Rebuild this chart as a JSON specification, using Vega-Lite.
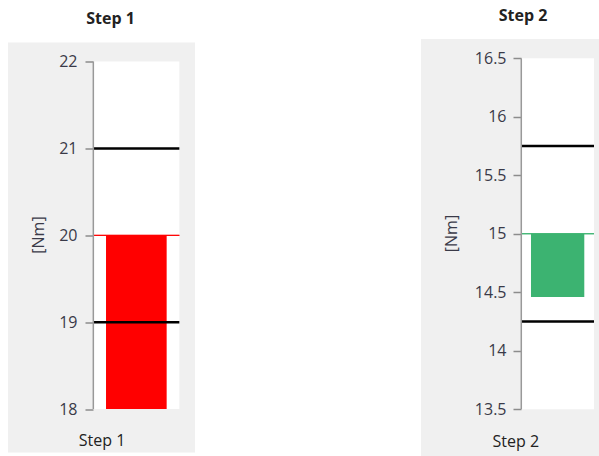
{
  "$schema": "https://vega.github.io/schema/vega-lite/v6.json",
  "padding": {"left": 8, "top": 8, "right": 0, "bottom": 0},
  "background": "#ffffff",
  "config": {"font": "Open Sans", "view": {"stroke": null}},
  "datasets": {
    "d1": [{"step": "Step 1", "lo": 18, "hi": 20, "target": 20, "lower": 19, "upper": 21}],
    "d2": [{"step": "Step 2", "lo": 14.46, "hi": 15, "target": 15, "lower": 14.25, "upper": 15.75}]
  },
  "hconcat": [
    {
      "width": 187,
      "height": 410,
      "title": {"text": "Step 1", "dx": 9, "offset": 3, "fontSize": 16, "fontWeight": "bold", "color": "#222222", "baseline": "alphabetic"},
      "data": {"name": "d1"},
      "view": {"fill": "#f0f0f0", "stroke": null},
      "encoding": {
        "x": {
          "field": "step", "type": "nominal",
          "scale": {"paddingInner": 0, "paddingOuter": 0.587, "align": 0.845},
          "axis": {"labels": false, "ticks": false, "domain": false, "grid": false, "title": "Step 1", "titleFontSize": 16, "titleFontWeight": "normal", "titleColor": "#222222", "titleX": 93.5, "titleY": -11.7, "titleAlign": "center", "titleBaseline": "middle"}
        }
      },
      "layer": [
        {
          "mark": {"type": "bar", "color": "#ffffff"},
          "encoding": {
            "y": {"datum": 22, "type": "quantitative", "title": "[Nm]",
              "scale": {"domain": [17.5, 22.22], "nice": false, "zero": false},
              "axis": {"values": [18, 19, 20, 21, 22], "offset": -85, "domain": false, "grid": false, "tickSize": 8, "tickColor": "#8c8c8c", "tickWidth": 1.5, "labelFontSize": 16, "labelColor": "#3a3a48", "labelPadding": 8, "labelFlush": false, "labelOverlap": false, "format": "~f", "title": "[Nm]", "titleFontSize": 16, "titleFontWeight": "normal", "titleColor": "#3a3a48", "titleX": -55, "titleY": 192, "titleAngle": -90, "titleAlign": "center", "titleBaseline": "middle"}},
            "y2": {"datum": 18}
          }
        },
        {
          "mark": {"type": "bar", "color": "#ff0000", "width": {"band": 0.705}},
          "encoding": {
            "y": {"field": "hi", "type": "quantitative", "title": "[Nm]", "scale": {"domain": [17.5, 22.22], "nice": false, "zero": false}},
            "y2": {"field": "lo"}
          }
        },
        {
          "mark": {"type": "bar", "fill": "transparent", "stroke": "#ff0000", "strokeWidth": 1},
          "encoding": {
            "y": {"field": "target", "type": "quantitative", "title": "[Nm]", "scale": {"domain": [17.5, 22.22], "nice": false, "zero": false}},
            "y2": {"field": "target"}
          }
        },
        {
          "mark": {"type": "bar", "fill": "transparent", "stroke": "#000000", "strokeWidth": 2.5},
          "encoding": {
            "y": {"field": "upper", "type": "quantitative", "title": "[Nm]", "scale": {"domain": [17.5, 22.22], "nice": false, "zero": false}},
            "y2": {"field": "upper"}
          }
        },
        {
          "mark": {"type": "bar", "fill": "transparent", "stroke": "#000000", "strokeWidth": 2.5},
          "encoding": {
            "y": {"field": "lower", "type": "quantitative", "title": "[Nm]", "scale": {"domain": [17.5, 22.22], "nice": false, "zero": false}},
            "y2": {"field": "lower"}
          }
        },
        {
          "mark": {"type": "rule", "color": "#999999", "strokeWidth": 1.5},
          "encoding": {
            "x": {"field": "step", "type": "nominal", "bandPosition": 0},
            "y": {"datum": 18, "type": "quantitative", "title": "[Nm]"},
            "y2": {"datum": 22}
          }
        }
      ]
    },
    {
      "width": 178,
      "height": 417,
      "title": {"text": "Step 2", "dx": 13, "offset": 2, "fontSize": 16, "fontWeight": "bold", "color": "#222222", "baseline": "alphabetic"},
      "data": {"name": "d2"},
      "view": {"fill": "#f0f0f0", "stroke": null},
      "encoding": {
        "x": {
          "field": "step", "type": "nominal",
          "scale": {"paddingInner": 0, "paddingOuter": 0.724, "align": 0.9525},
          "axis": {"labels": false, "ticks": false, "domain": false, "grid": false, "title": "Step 2", "titleFontSize": 16, "titleFontWeight": "normal", "titleColor": "#222222", "titleX": 94.3, "titleY": -14.5, "titleAlign": "center", "titleBaseline": "middle"}
        }
      },
      "layer": [
        {
          "mark": {"type": "bar", "color": "#ffffff"},
          "encoding": {
            "y": {"datum": 16.5, "type": "quantitative", "title": "[Nm]",
              "scale": {"domain": [13.1, 16.665], "nice": false, "zero": false},
              "axis": {"values": [13.5, 14, 14.5, 15, 15.5, 16, 16.5], "offset": -100, "domain": false, "grid": false, "tickSize": 8, "tickColor": "#8c8c8c", "tickWidth": 1.5, "labelFontSize": 16, "labelColor": "#3a3a48", "labelPadding": 7, "labelFlush": false, "labelOverlap": false, "format": "~f", "title": "[Nm]", "titleFontSize": 16, "titleFontWeight": "normal", "titleColor": "#3a3a48", "titleX": -69.5, "titleY": 194, "titleAngle": -90, "titleAlign": "center", "titleBaseline": "middle"}},
            "y2": {"datum": 13.5}
          }
        },
        {
          "mark": {"type": "bar", "color": "#3cb371", "width": {"band": 0.733}},
          "encoding": {
            "y": {"field": "hi", "type": "quantitative", "title": "[Nm]", "scale": {"domain": [13.1, 16.665], "nice": false, "zero": false}},
            "y2": {"field": "lo"}
          }
        },
        {
          "mark": {"type": "bar", "fill": "transparent", "stroke": "#3cb371", "strokeWidth": 1},
          "encoding": {
            "y": {"field": "target", "type": "quantitative", "title": "[Nm]", "scale": {"domain": [13.1, 16.665], "nice": false, "zero": false}},
            "y2": {"field": "target"}
          }
        },
        {
          "mark": {"type": "bar", "fill": "transparent", "stroke": "#000000", "strokeWidth": 2.5},
          "encoding": {
            "y": {"field": "upper", "type": "quantitative", "title": "[Nm]", "scale": {"domain": [13.1, 16.665], "nice": false, "zero": false}},
            "y2": {"field": "upper"}
          }
        },
        {
          "mark": {"type": "bar", "fill": "transparent", "stroke": "#000000", "strokeWidth": 2.5},
          "encoding": {
            "y": {"field": "lower", "type": "quantitative", "title": "[Nm]", "scale": {"domain": [13.1, 16.665], "nice": false, "zero": false}},
            "y2": {"field": "lower"}
          }
        },
        {
          "mark": {"type": "rule", "color": "#999999", "strokeWidth": 1.5},
          "encoding": {
            "x": {"field": "step", "type": "nominal", "bandPosition": 0},
            "y": {"datum": 13.5, "type": "quantitative", "title": "[Nm]"},
            "y2": {"datum": 16.5}
          }
        }
      ]
    }
  ],
  "spacing": 226,
  "center": true
}
